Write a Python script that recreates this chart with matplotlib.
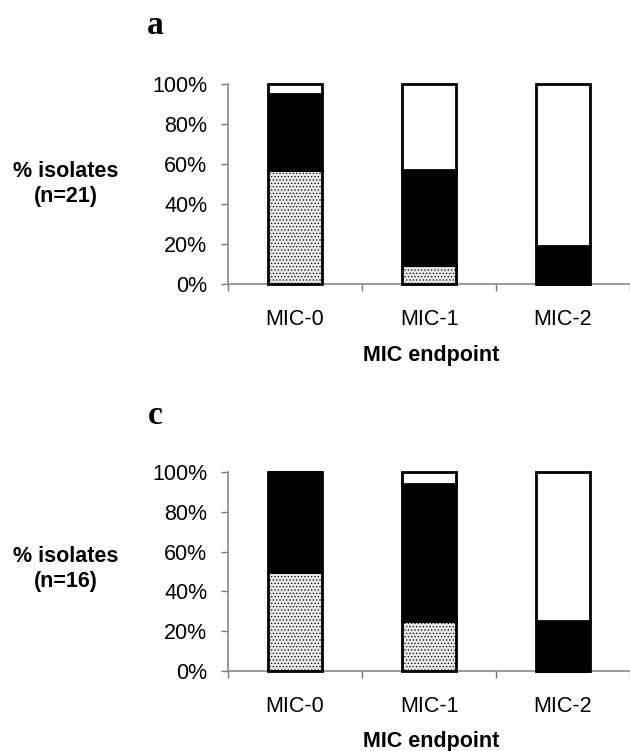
import matplotlib
matplotlib.use("Agg")
import matplotlib.pyplot as plt
import numpy as np

plt.rcParams['font.family'] = ['Liberation Sans', 'DejaVu Sans']
plt.rcParams['hatch.linewidth'] = 0.5
plt.rcParams['hatch.color'] = '#a8a8a8'

categories = ["MIC-0", "MIC-1", "MIC-2"]
y_ticks = [0, 20, 40, 60, 80, 100]
y_tick_labels = ["0%", "20%", "40%", "60%", "80%", "100%"]

# panel a (n=21)
a_dotted = [57.1, 9.5, 0.0]
a_black = [38.1, 47.6, 19.0]
a_white = [4.8, 42.9, 81.0]

# panel c (n=16)
c_dotted = [50.0, 25.0, 0.0]
c_black = [50.0, 68.75, 25.0]
c_white = [0.0, 6.25, 75.0]

panel_letters = ["a", "c"]
ylabels = ["% isolates\n(n=21)", "% isolates\n(n=16)"]
xlabel = "MIC endpoint"

W, H = 630, 751
fig = plt.figure(figsize=(W / 100, H / 100), dpi=100)
FS = 15.5

def px_rect(left, top, right, bottom):
    return [left / W, 1 - bottom / H, (right - left) / W, (bottom - top) / H]

panels = [
    (px_rect(228, 84, 630, 284), a_dotted, a_black, a_white, 26, 184, 355),
    (px_rect(228, 472, 630, 671), c_dotted, c_black, c_white, 415, 569, 742),
]

for i, (rect, dotted, black, white, letter_y, ylab_y, xl_y) in enumerate(panels):
    ax = fig.add_axes(rect)
    x = np.arange(len(categories))
    bw = 0.41
    d = np.array(dotted)
    b = np.array(black)
    w = np.array(white)
    kw = dict(width=bw, edgecolor='black', linewidth=2.0, clip_on=False, zorder=3)
    ax.bar(x, d, color='#e8e8e8', hatch='.....', **kw)
    ax.bar(x, b, bottom=d, color='black', **kw)
    ax.bar(x, w, bottom=d + b, color='white', **kw)

    ax.set_xlim(-0.5, 2.5)
    ax.set_ylim(0, 100)
    ax.set_yticks(y_ticks)
    ax.set_yticklabels(y_tick_labels, fontsize=FS)
    ax.set_xticks([-0.5, 0.5, 1.5, 2.5])
    ax.set_xticklabels([])
    ax.set_xticks(x, minor=True)
    ax.set_xticklabels(categories, minor=True, fontsize=FS)
    ax.tick_params(axis='x', which='minor', length=0, pad=18)
    ax.tick_params(axis='x', which='major', length=5, width=1, color='#777777', direction='out')
    ax.tick_params(axis='y', length=5, width=1, color='#777777', direction='out', pad=10)
    for s in ['top', 'right']:
        ax.spines[s].set_visible(False)
    for s in ['left', 'bottom']:
        ax.spines[s].set_color('#8a8a8a')
        ax.spines[s].set_linewidth(1.2)

    fig.text(155 / W, 1 - letter_y / H, panel_letters[i], fontsize=24, fontweight='bold',
             family=['Liberation Serif', 'DejaVu Serif'], ha='center', va='center')
    fig.text(66 / W, 1 - ylab_y / H, ylabels[i], fontsize=FS, fontweight='bold',
             ha='center', va='center', linespacing=1.2)
    fig.text(431 / W, 1 - xl_y / H, xlabel, fontsize=FS, fontweight='bold',
             ha='center', va='center')

fig.savefig("out.png", dpi=100)
